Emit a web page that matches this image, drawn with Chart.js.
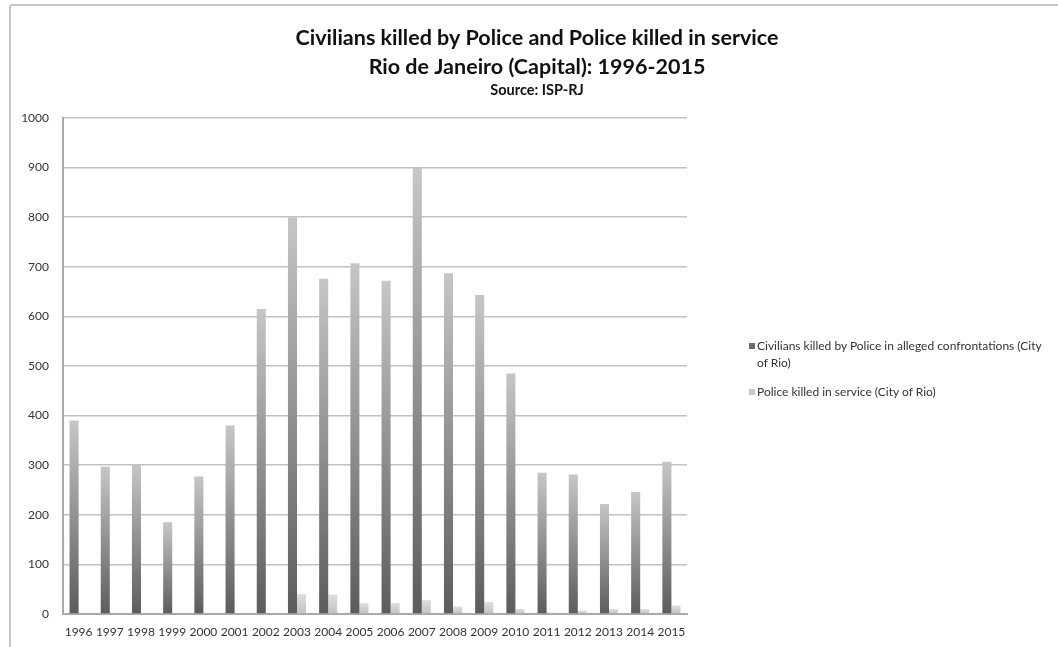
<!DOCTYPE html>
<html>
<head>
<meta charset="utf-8">
<script src="https://cdn.jsdelivr.net/npm/chart.js@4.4.0/dist/chart.umd.min.js"></script>
<style>
  html, body { margin: 0; padding: 0; background: #fff; }
  #wrap { position: relative; width: 1058px; height: 647px; overflow: hidden; }
  #frame { position: absolute; left: 9px; top: 4px; width: 1100px; height: 700px;
           border-top: 2px solid #c8c8c8; border-left: 2px solid #c8c8c8; border-top-left-radius: 3px; }
  #chart { position: absolute; left: 0; top: 0; }
  #legend { position: absolute; left: 749px; top: 337px; width: 300px;
            font-family: Lato, sans-serif; font-size: 12px; line-height: 17px; color: #333; }
  .item { position: relative; padding-left: 8px; margin-bottom: 12px; }
  .mark { position: absolute; left: 0; top: 6px; width: 6px; height: 6px; }
</style>
</head>
<body>
<div id="wrap">
  <div id="frame"></div>
  <canvas id="chart" width="1058" height="647"></canvas>
  <div id="legend"></div>
</div>
<script>
// data
const years = ["1996","1997","1998","1999","2000","2001","2002","2003","2004","2005",
               "2006","2007","2008","2009","2010","2011","2012","2013","2014","2015"];
const civilians = [390, 297, 302, 185, 277, 380, 615, 800, 676, 707,
                   672, 900, 687, 643, 485, 285, 281, 222, 246, 307];
const police = [null, null, null, null, null, null, null, 40, 39, 22,
                22, 28, 15, 24, 10, 3, 7, 10, 10, 17];
const seriesLabels = ["Civilians killed by Police in alleged confrontations (City of Rio)",
                      "Police killed in service (City of Rio)"];
const titleLines = ["Civilians killed by Police and Police killed in service",
                    "Rio de Janeiro (Capital): 1996-2015"];
const subtitleText = "Source: ISP-RJ";

// vertical gradient per bar, from its base to its top
function barGradient(c, bottom, top){
  const chart = c.chart;
  const v = c.parsed ? c.parsed.y : null;
  if (!chart.chartArea || v == null) return bottom;
  const y = chart.scales.y;
  const y0 = y.getPixelForValue(0), y1 = y.getPixelForValue(v);
  if (!isFinite(y0) || !isFinite(y1) || y0 === y1) return bottom;
  const g = chart.ctx.createLinearGradient(0, y0, 0, y1);
  g.addColorStop(0, bottom);
  g.addColorStop(1, top);
  return g;
}

const darkBottom = "#5c5c5c", darkTop = "#c6c6c6";
const lightBottom = "#c2c2c2", lightTop = "#dedede";

const chart = new Chart(document.getElementById("chart"), {
  type: "bar",
  data: {
    labels: years,
    datasets: [
      { label: seriesLabels[0], data: civilians,
        backgroundColor: c => barGradient(c, darkBottom, darkTop) },
      { label: seriesLabels[1], data: police,
        backgroundColor: c => barGradient(c, lightBottom, lightTop) }
    ]
  },
  options: {
    responsive: false,
    animation: false,
    layout: { padding: { left: 16, top: 0, right: 0, bottom: 0 } },
    datasets: { bar: { categoryPercentage: 0.58, barPercentage: 1.0 } },
    plugins: {
      legend: { display: false },
      tooltip: { enabled: false },
      title: {
        display: true, text: titleLines, color: "#111",
        font: { family: "Lato", size: 21.5, weight: "bold", lineHeight: 29 / 21.5 },
        padding: { top: 24, bottom: 0 }
      },
      subtitle: {
        display: true, text: subtitleText, color: "#111",
        font: { family: "Lato", size: 14.5, weight: "bold", lineHeight: 15 / 14.5 },
        padding: { top: 1, bottom: 20 }
      }
    },
    scales: {
      x: {
        grid: { display: false, drawTicks: false },
        border: { display: true, color: "#a9a9a9", width: 2 },
        ticks: { color: "#333", padding: 11, maxRotation: 0, autoSkip: false,
                 font: { family: "Lato", size: 12 } },
        afterFit(s){ s.height = 33; }
      },
      y: {
        min: 0, max: 1000,
        grid: { color: "#c2c2c2", lineWidth: 1.6, drawTicks: false },
        border: { display: true, color: "#a9a9a9", width: 2 },
        ticks: { stepSize: 100, color: "#333", padding: 14,
                 font: { family: "Lato", size: 12 },
                 callback: v => String(v) },
        afterFit(s){ s.width = 47; }
      },
      // empty right axis keeps room for the legend
      yRoom: {
        type: "linear", position: "right", display: true,
        grid: { display: false, drawTicks: false },
        border: { display: false },
        ticks: { display: false },
        afterFit(s){ s.width = 371; }
      }
    }
  }
});

// legend as html so the long label can wrap
const legendEl = document.getElementById("legend");
[[seriesLabels[0], "#6b6b6b"], [seriesLabels[1], "#c9c9c9"]].forEach(([txt, col]) => {
  const d = document.createElement("div");
  d.className = "item";
  d.innerHTML = '<span class="mark" style="background:' + col + '"></span>' + txt;
  legendEl.appendChild(d);
});
</script>
</body>
</html>
